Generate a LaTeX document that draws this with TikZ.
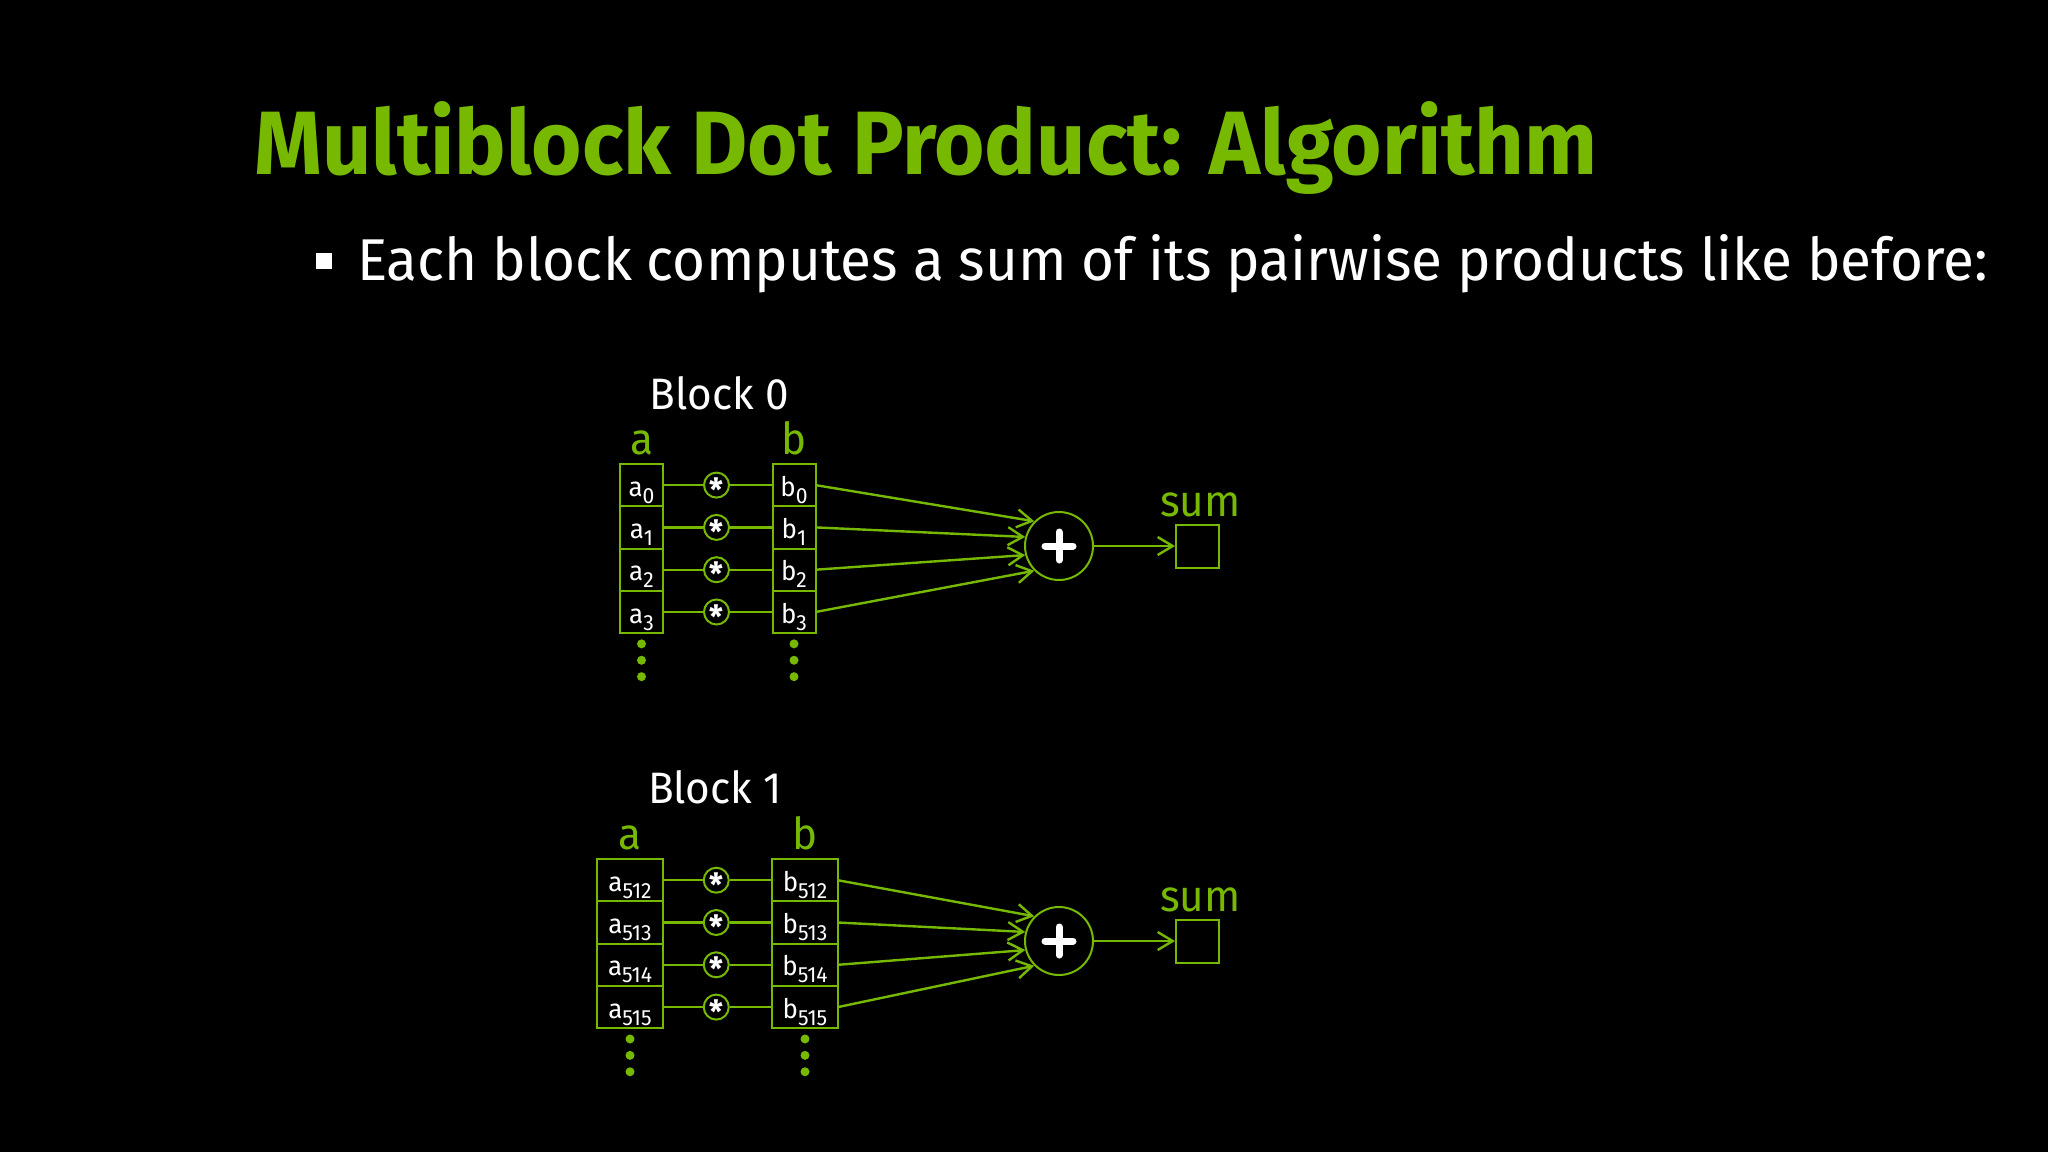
\documentclass[tikz,border=0pt]{standalone}
\usepackage{fontspec}
\setmainfont{Fira Sans}[FakeStretch=0.96]
\usetikzlibrary{positioning,arrows.meta}
\definecolor{dGreen}{RGB}{118,185,0}
\tikzset{
  cell/.style={rectangle, draw=dGreen, line width=2pt, fill=black, text=white,
               minimum height=42.3pt, minimum width=43pt, inner sep=0pt, outer sep=0pt,
               text height=22pt, text depth=0pt, font=\fontsize{27}{27}\selectfont},
  widecell/.style={cell, minimum width=65.5pt},
  mul/.style={circle, draw=dGreen, line width=2pt, fill=black, text=white,
              minimum size=25pt, inner sep=0pt, font=\fontsize{32}{32}\selectfont\bfseries},
  adder/.style={circle, draw=dGreen, line width=2pt, fill=black, minimum size=68pt,
                path picture={\draw[white, line width=7pt, line cap=round]
                  ([xshift=-14pt]path picture bounding box.center) --
                  ([xshift=14pt]path picture bounding box.center)
                  ([yshift=-14pt]path picture bounding box.center) --
                  ([yshift=14pt]path picture bounding box.center);}},
  sumbox/.style={rectangle, draw=dGreen, line width=2pt, minimum size=43pt, inner sep=0pt},
  wire/.style={draw=dGreen, line width=2.4pt},
  flow/.style={-{Straight Barb[length=15pt, width=18pt]}, draw=dGreen, line width=2.4pt},
  lbl/.style={text=dGreen, inner sep=0pt, text depth=0pt, font=\fontsize{44}{44}\selectfont},
  blk/.style={text=white, inner sep=0pt, anchor=base, font=\fontsize{44}{44}\selectfont},
  dot/.style={circle, fill=dGreen, minimum size=9pt, inner sep=0pt},
}
\newcommand{\sub}[1]{\raisebox{-7pt}{\fontsize{22}{22}\selectfont #1}}
\newcommand{\mulsym}{\raisebox{-0.5em}[0pt][0pt]{*}}

\begin{document}
\begin{tikzpicture}[x=1pt, y=-1pt, node distance=0pt]
  % --- slide background ---
  \fill[black] (0,0) rectangle (2048,1152);
  \useasboundingbox (0,0) rectangle (2048,1152);

  % --- heading and bullet ---
  \node[anchor=base west, inner sep=0pt, text=dGreen,
        font=\fontsize{90}{96}\selectfont\bfseries] (title) at (254,174)
        {Multiblock Dot Product: Algorithm};
  \node[rectangle, fill=white, minimum size=16pt, inner sep=0pt] (bullet) at (324,260.5) {};
  \node[anchor=base west, inner sep=0pt, text=white,
        font=\fontsize{59}{64}\selectfont] (point) at (357,280.7)
        {Each block computes a sum of its pairwise products like before:};

  % --- block 0 ---
  \node[blk] (blk0) at (719.5,409) {Block 0};
  \node[cell] (a0) at (641.5,485.1) {a\sub{0}};
  \node[cell, below=of a0] (a1) {a\sub{1}};
  \node[cell, below=of a1] (a2) {a\sub{2}};
  \node[cell, below=of a2] (a3) {a\sub{3}};
  \node[adder] (add0) at (1059,546) {};
  \node[sumbox, right=81pt of add0] (sum0) {};
  \node[lbl, above=7pt of sum0, xshift=3pt] (sumlbl0) {sum};
  \foreach \i/\ang in {0/135,1/165,2/195,3/225} {
    \node[mul, right=40pt of a\i] (m\i) {\mulsym};
    \node[cell, right=42.5pt of m\i] (b\i) {b\sub{\i}};
    \draw[wire] (a\i) -- (m\i) -- (b\i);
    \draw[flow] (b\i.east) -- (add0.\ang);
  }
  \draw[flow] (add0.east) -- (sum0.west);
  \node[lbl, above=9pt of a0] (alab0) {a};
  \node[lbl, above=9pt of b0] (blab0) {b};
  \foreach \col in {a,b} {
    \node[dot, below=6pt of \col3] (\col dot1) {};
    \node[dot, below=7pt of \col dot1] (\col dot2) {};
    \node[dot, below=7pt of \col dot2] (\col dot3) {};
  }

  % --- block 1 ---
  \node[blk] (blk1) at (715,803) {Block 1};
  \node[widecell] (a512) at (630,880.2) {a\sub{512}};
  \node[widecell, below=of a512] (a513) {a\sub{513}};
  \node[widecell, below=of a513] (a514) {a\sub{514}};
  \node[widecell, below=of a514] (a515) {a\sub{515}};
  \node[adder] (add1) at (1059,941) {};
  \node[sumbox, right=81pt of add1] (sum1) {};
  \node[lbl, above=7pt of sum1, xshift=3pt] (sumlbl1) {sum};
  \foreach \i/\ang in {512/135,513/165,514/195,515/225} {
    \node[mul, right=40pt of a\i] (m\i) {\mulsym};
    \node[widecell, right=42.5pt of m\i] (b\i) {b\sub{\i}};
    \draw[wire] (a\i) -- (m\i) -- (b\i);
    \draw[flow] (b\i.east) -- (add1.\ang);
  }
  \draw[flow] (add1.east) -- (sum1.west);
  \node[lbl, above=9pt of a512] (alab1) {a};
  \node[lbl, above=9pt of b512] (blab1) {b};
  \foreach \col in {a,b} {
    \node[dot, below=6pt of \col515] (\col dot4) {};
    \node[dot, below=7pt of \col dot4] (\col dot5) {};
    \node[dot, below=7pt of \col dot5] (\col dot6) {};
  }
\end{tikzpicture}
\end{document}
